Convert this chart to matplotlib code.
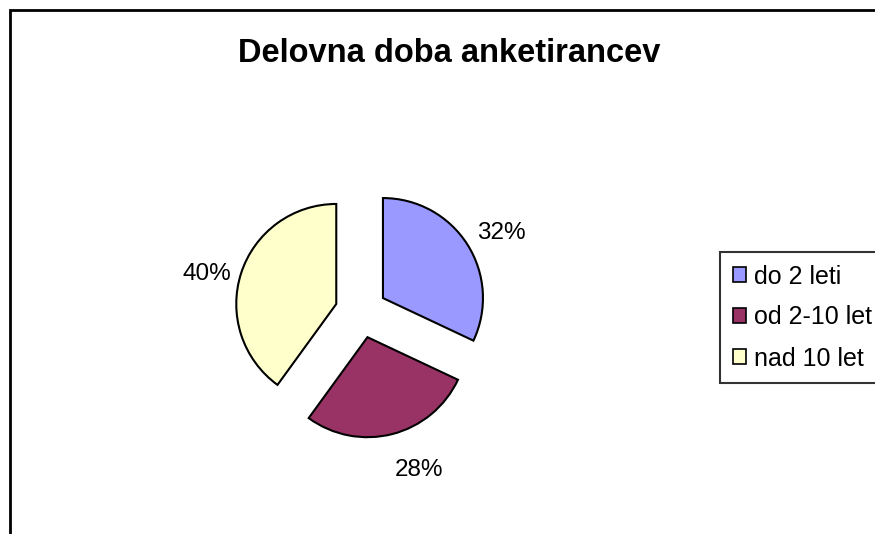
import matplotlib.pyplot as plt
from matplotlib.patches import Rectangle, Patch

plt.rcParams['font.family'] = ['Liberation Sans', 'DejaVu Sans']

categories = ['do 2 leti', 'od 2-10 let', 'nad 10 let']
shares = [32, 28, 40]
colors = ['#9999FF', '#993366', '#FFFFCC']

W, H = 875, 534
fig = plt.figure(figsize=(W / 100, H / 100), dpi=100)

# outer chart frame (runs off the right and bottom edge)
fig.patches.append(Rectangle((10 / W, -0.05), 1.1, 1 - 10 / H + 0.05,
                             transform=fig.transFigure, fill=False,
                             edgecolor='black', linewidth=2))

fig.text(449 / W, 1 - 54 / H, 'Delovna doba anketirancev', ha='center', va='center',
         fontsize=23.5, fontweight='bold')

# pie center ~ (361, 312) px, radius ~100 px
cx, cy, box = 361, 312, 300
ax = fig.add_axes([(cx - box / 2) / W, (H - cy - box / 2) / H, box / W, box / H])
wedges, texts, autotexts = ax.pie(shares, colors=colors, startangle=90, counterclock=False,
                                  explode=[0.26] * 3, autopct='%d%%', pctdistance=1.34,
                                  wedgeprops=dict(edgecolor='black', linewidth=1.5))
# excel puts the labels a bit off the mid-angle; nudge them (data units, 1 = radius)
nudges = [(0.05, -0.07), (0.18, -0.03), (-0.02, -0.11)]
for t, (dx, dy) in zip(autotexts, nudges):
    x, y = t.get_position()
    t.set_position((x + dx, y + dy))
    t.set_fontsize(17.5)
ax.set_xlim(-1.5, 1.5)
ax.set_ylim(-1.5, 1.5)
ax.axis('off')

handles = [Patch(facecolor=c, edgecolor='black', linewidth=1.2) for c in colors]
leg = fig.legend(handles, categories, loc='upper left', bbox_to_anchor=(720 / W, 1 - 252 / H),
                 fontsize=18, frameon=True, fancybox=False, handlelength=0.55, handleheight=0.55,
                 handletextpad=0.3, labelspacing=0.68, borderpad=0.5, borderaxespad=0)
leg.get_frame().set_edgecolor('black')
leg.get_frame().set_linewidth(1.5)

plt.savefig('out.png', dpi=100)
